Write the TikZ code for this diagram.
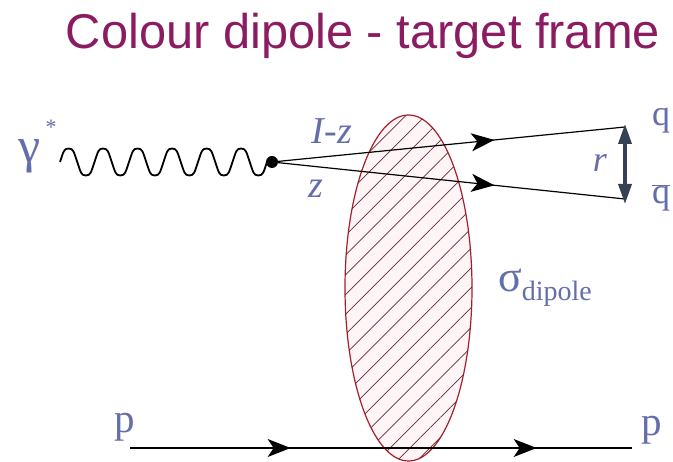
\documentclass[tikz,border=0pt]{standalone}
\usepackage{fontspec}
\setmainfont{Liberation Serif}
\newfontfamily\titlefont{Liberation Sans}
\usetikzlibrary{decorations.markings,arrows.meta,patterns.meta,shapes.geometric}
\definecolor{titlec}{RGB}{140,28,98}
\definecolor{labc}{RGB}{100,110,170}
\definecolor{ellc}{RGB}{165,30,45}
\definecolor{ellfill}{RGB}{255,244,246}
\definecolor{hatchc}{RGB}{95,45,50}
\definecolor{rarrc}{RGB}{55,65,85}
\tikzset{
  fermion/.style={draw=black, line width=1.2pt, postaction={decorate, decoration={markings,
      mark=at position #1 with {\arrow{Stealth[length=23pt,width=18pt,inset=6pt]}}}}},
  lab/.style={text=labc, inner sep=0pt},
  photon/.style={draw=black, line width=1.8pt},
}
\begin{document}
\begin{tikzpicture}[x=1pt,y=-1pt]
\useasboundingbox (0,0) rectangle (673,462);
% title
\node[anchor=base, inner sep=0pt, text=titlec, font=\titlefont\fontsize{48.8}{50}\selectfont] (title) at (363,49) {Colour dipole - target frame};
% blob
\node[ellipse, draw=ellc, line width=1.2pt, fill=ellfill, minimum width=127pt, minimum height=346pt, inner sep=0pt,
      postaction={pattern={Lines[angle=45,distance=14pt,line width=0.7pt]}, pattern color=hatchc}] (blob) at (408.5,288) {};
% coordinates
\node[circle, fill=black, inner sep=0pt, minimum size=12pt] (v) at (272,162) {};
\coordinate (g0) at (60,162);
\coordinate (qe) at (625,127);
\coordinate (qbe) at (625,199);
\coordinate (ra) at (625,124);
\coordinate (rb) at (625,204);
\coordinate (p0) at (130,448);
\coordinate (p1) at (632,448);
% photon: six explicit periods
\draw[photon] (g0)
  \foreach \i in {0,...,5} {
    .. controls +(3.5,-10) and +(-5,0) .. ++(8.6,-13.5)
    .. controls +(5,0) and +(-3.5,-10) .. ++(8.65,13.5)
    .. controls +(3.5,10) and +(-5,0) .. ++(8.6,13.5)
    .. controls +(5,0) and +(-3.5,10) .. ++(8.65,-13.5)
  } -- (v.center);
% quark lines
\draw[fermion=0.63] (v.center) -- (qe);
\draw[fermion=0.63] (v.center) -- (qbe);
% proton line
\draw[fermion=0.32, postaction={decorate, decoration={markings,
      mark=at position 0.81 with {\arrow{Stealth[length=23pt,width=18pt,inset=6pt]}}}}] (p0) -- (p1);
% r arrow
\draw[rarrc, line width=3.5pt, {Triangle[length=20pt,width=13pt]}-{Triangle[length=20pt,width=13pt]}] (ra) -- (rb);
% labels
\node[lab, font=\fontsize{50}{50}\selectfont] (gam) at (30,156) {γ};
\node[lab, font=\fontsize{22}{22}\selectfont] (star) at (51,127) {*};
\node[lab, font=\itshape\fontsize{38}{38}\selectfont] (lz) at (332,131) {I-z};
\node[lab, font=\itshape\fontsize{38}{38}\selectfont] (z) at (316,189) {z};
\node[lab, font=\itshape\fontsize{36}{36}\selectfont] (r) at (600,163) {r};
\node[lab, font=\fontsize{36}{36}\selectfont] (q) at (661,121) {q};
\node[lab, font=\fontsize{36}{36}\selectfont] (qb) at (661,198) {$\overline{\mbox{q}}$};
\node[lab, anchor=base west, font=\fontsize{44}{44}\selectfont] (sig) at (498,292) {σ\raisebox{-9pt}{\fontsize{28}{28}\selectfont dipole}};
\node[lab, anchor=base, font=\fontsize{41}{41}\selectfont] (pl) at (125,433) {p};
\node[lab, anchor=base, font=\fontsize{41}{41}\selectfont] (pr) at (652,436) {p};
\end{tikzpicture}
\end{document}
